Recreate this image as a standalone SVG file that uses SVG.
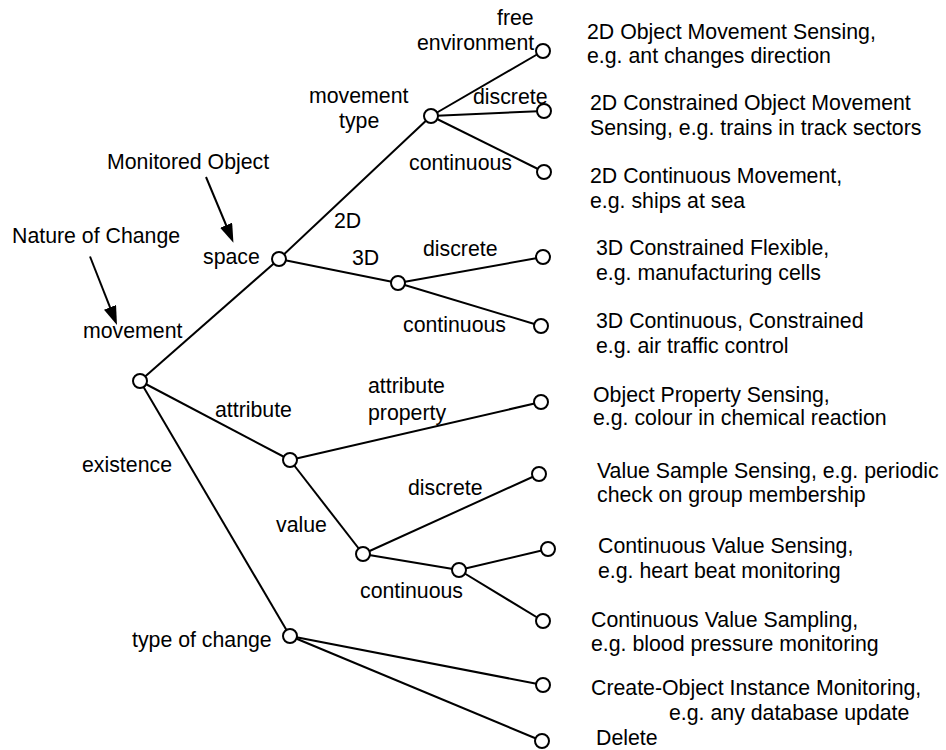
<svg xmlns="http://www.w3.org/2000/svg" width="946" height="750" viewBox="0 0 946 750">
  <style>
    text { font-family: "Liberation Sans", Arial, Helvetica, sans-serif; font-size: 21.3px; fill: #000; }
    .edge { stroke: #000; stroke-width: 2; fill: none; }
    .node { fill: #fff; stroke: #000; stroke-width: 2; }
    .pointer { stroke: #000; stroke-width: 2; fill: none; marker-end: url(#head); }
  </style>
  <defs>
    <marker id="head" viewBox="0 0 19 13" refX="9" refY="6.5" markerWidth="19" markerHeight="13" markerUnits="userSpaceOnUse" orient="auto">
      <path d="M0,0 L19,6.5 L0,13 z" fill="#000"/>
    </marker>
  </defs>

  <rect width="946" height="750" fill="#fff"/>

  <!-- tree branches -->
  <g id="connectors">
    <line class="edge" x1="140" y1="381" x2="279" y2="259"/>
    <line class="edge" x1="279" y1="259" x2="431" y2="116"/>
    <line class="edge" x1="431" y1="116" x2="543" y2="51"/>
    <line class="edge" x1="431" y1="116" x2="544" y2="111"/>
    <line class="edge" x1="431" y1="116" x2="544" y2="172"/>
    <line class="edge" x1="279" y1="259" x2="398" y2="283"/>
    <line class="edge" x1="398" y1="283" x2="543" y2="257"/>
    <line class="edge" x1="398" y1="283" x2="541" y2="326"/>
    <line class="edge" x1="140" y1="381" x2="290" y2="460"/>
    <line class="edge" x1="290" y1="460" x2="541" y2="402"/>
    <line class="edge" x1="290" y1="460" x2="363" y2="554"/>
    <line class="edge" x1="363" y1="554" x2="539" y2="474"/>
    <line class="edge" x1="363" y1="554" x2="459" y2="570"/>
    <line class="edge" x1="459" y1="570" x2="548" y2="549"/>
    <line class="edge" x1="459" y1="570" x2="543" y2="621"/>
    <line class="edge" x1="140" y1="381" x2="290" y2="636"/>
    <line class="edge" x1="290" y1="636" x2="543" y2="685"/>
    <line class="edge" x1="290" y1="636" x2="542" y2="741"/>
    <!-- annotation pointers -->
    <line class="pointer" x1="206" y1="177" x2="229.6" y2="233.5"/>
    <line class="pointer" x1="90" y1="256.5" x2="113.3" y2="315.7"/>
  </g>

  <!-- branch labels -->
  <g id="edge-labels">
    <text x="497" y="25">free</text>
    <text x="417" y="50">environment</text>
    <text x="473" y="104">discrete</text>
    <text x="409" y="170">continuous</text>
    <text x="334" y="228">2D</text>
    <text x="352" y="265">3D</text>
    <text x="423" y="256">discrete</text>
    <text x="403" y="332">continuous</text>
    <text x="215" y="417">attribute</text>
    <text x="368" y="393">attribute</text>
    <text x="368" y="420">property</text>
    <text x="82" y="472">existence</text>
    <text x="276" y="532">value</text>
    <text x="408" y="495">discrete</text>
    <text x="360" y="598">continuous</text>
  </g>

  <!-- annotations -->
  <g id="annotations">
    <text x="107" y="169">Monitored Object</text>
    <text x="12" y="243">Nature of Change</text>
  </g>

  <!-- inner nodes -->
  <g id="root"><circle class="node" cx="140" cy="381" r="7"/><text x="83" y="338">movement</text></g>
  <g id="space"><circle class="node" cx="279" cy="259" r="7"/><text x="203" y="264">space</text></g>
  <g id="movement-type"><circle class="node" cx="431" cy="116" r="7"/><text x="309" y="103">movement</text><text x="339" y="128">type</text></g>
  <g id="three-d"><circle class="node" cx="398" cy="283" r="7"/></g>
  <g id="attribute"><circle class="node" cx="290" cy="460" r="7"/></g>
  <g id="value"><circle class="node" cx="363" cy="554" r="7"/></g>
  <g id="continuous-value"><circle class="node" cx="459" cy="570" r="7"/></g>
  <g id="type-of-change"><circle class="node" cx="290" cy="636" r="7"/><text x="132" y="647">type of change</text></g>

  <!-- leaf nodes with descriptions -->
  <g id="leaf-2d-free"><circle class="node" cx="543" cy="51" r="7"/>
    <text x="587" y="39">2D Object Movement Sensing,</text><text x="587" y="63">e.g. ant changes direction</text></g>
  <g id="leaf-2d-discrete"><circle class="node" cx="544" cy="111" r="7"/>
    <text x="590" y="110">2D Constrained Object Movement</text><text x="590" y="135">Sensing, e.g. trains in track sectors</text></g>
  <g id="leaf-2d-continuous"><circle class="node" cx="544" cy="172" r="7"/>
    <text x="590" y="183">2D Continuous Movement,</text><text x="590" y="208">e.g. ships at sea</text></g>
  <g id="leaf-3d-discrete"><circle class="node" cx="543" cy="257" r="7"/>
    <text x="596" y="255">3D Constrained Flexible,</text><text x="596" y="280">e.g. manufacturing cells</text></g>
  <g id="leaf-3d-continuous"><circle class="node" cx="541" cy="326" r="7"/>
    <text x="596" y="328">3D Continuous, Constrained</text><text x="596" y="353">e.g. air traffic control</text></g>
  <g id="leaf-property"><circle class="node" cx="541" cy="402" r="7"/>
    <text x="593" y="402">Object Property Sensing,</text><text x="593" y="425">e.g. colour in chemical reaction</text></g>
  <g id="leaf-value-discrete"><circle class="node" cx="539" cy="474" r="7"/>
    <text x="597" y="478">Value Sample Sensing, e.g. periodic</text><text x="597" y="502">check on group membership</text></g>
  <g id="leaf-value-sensing"><circle class="node" cx="548" cy="549" r="7"/>
    <text x="598" y="553">Continuous Value Sensing,</text><text x="598" y="578">e.g. heart beat monitoring</text></g>
  <g id="leaf-value-sampling"><circle class="node" cx="543" cy="621" r="7"/>
    <text x="591" y="627">Continuous Value Sampling,</text><text x="591" y="651">e.g. blood pressure monitoring</text></g>
  <g id="leaf-create"><circle class="node" cx="543" cy="685" r="7"/>
    <text x="591" y="695">Create-Object Instance Monitoring,</text><text x="669" y="720">e.g. any database update</text></g>
  <g id="leaf-delete"><circle class="node" cx="542" cy="741" r="7"/>
    <text x="596" y="745">Delete</text></g>
</svg>
